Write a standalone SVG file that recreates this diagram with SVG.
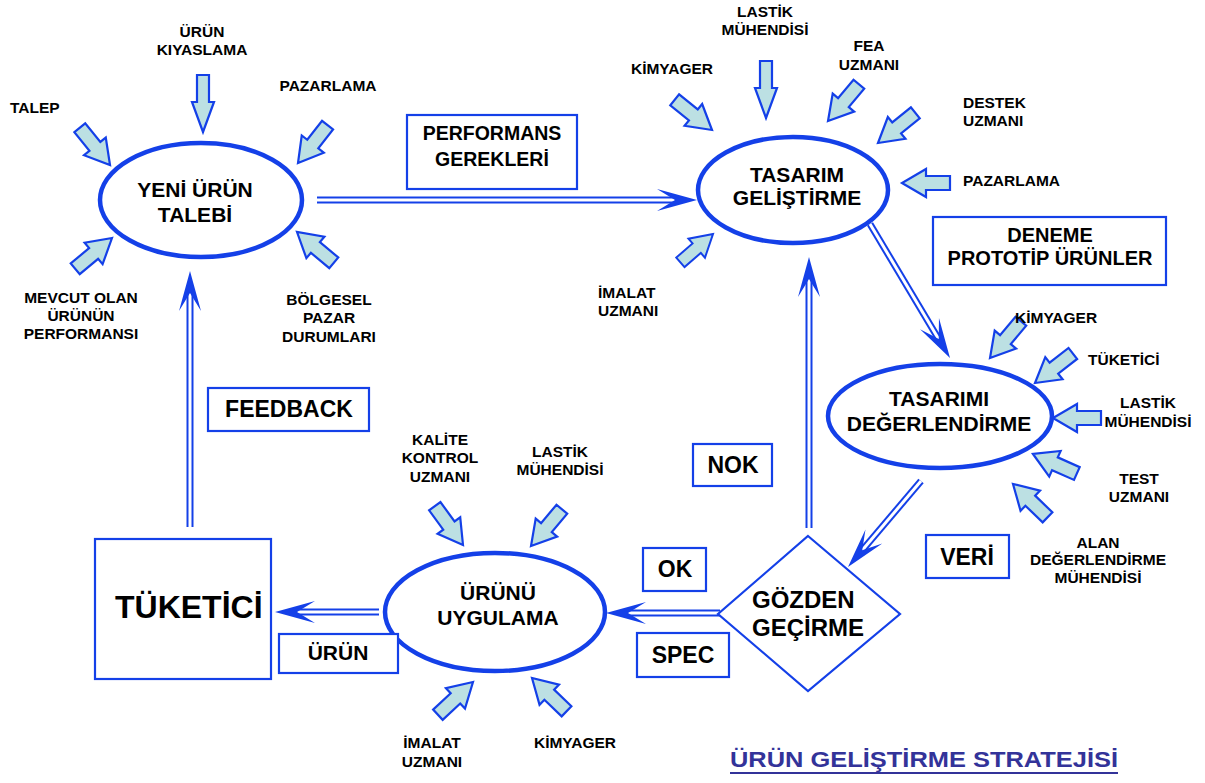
<svg xmlns="http://www.w3.org/2000/svg" xmlns:xlink="http://www.w3.org/1999/xlink" width="1205" height="783" viewBox="0 0 1205 783">
<style>
text{font-family:"Liberation Sans",Arial,sans-serif;font-weight:bold;fill:#000}
.s{font-size:15.5px;text-anchor:middle}
.sl{font-size:15.5px;text-anchor:start}
.m{font-size:21px;text-anchor:middle}
.b{font-size:23px;text-anchor:middle}
.node{fill:#fff;stroke:#1440E8;stroke-width:4.5}
.box{fill:#fff;stroke:#1440E8;stroke-width:2.2}
.blk{fill:#BCE0E3;stroke:#1440E8;stroke-width:2.2;stroke-linejoin:miter}
.do{fill:none;stroke:#1440E8;stroke-width:7}
.di{fill:none;stroke:#fff;stroke-width:3}
.ah{fill:#1440E8;stroke:none}
</style>
<defs>
<path id="ba" d="M0,0 L-24,-14 L-24,-7 L-48,-7 L-48,7 L-24,7 L-24,14 Z"/>
<path id="bv" d="M0,0 L-30,-11 L-30,-6 L-57,-6 L-57,6 L-30,6 L-30,11 Z"/>
<path id="ahd" d="M0,0 L-40,-11 L-22,0 L-40,11 Z"/>
</defs>
<rect width="1205" height="783" fill="#fff"/>

<g id="connectors">
<path class="do" d="M317,200 L676,200"/><path class="di" d="M317,200 L676,200"/>
<use href="#ahd" class="ah" transform="translate(697,200)"/>
<path class="do" d="M870,224 L939.2,340"/><path class="di" d="M870,224 L939.2,340"/>
<use href="#ahd" class="ah" transform="translate(950,358) rotate(59.2)"/>
<path class="do" d="M921,481 L861.6,551"/><path class="di" d="M921,481 L861.6,551"/>
<use href="#ahd" class="ah" transform="translate(848,567) rotate(130.3)"/>
<path class="do" d="M809,528 L809,278"/><path class="di" d="M809,528 L809,278"/>
<use href="#ahd" class="ah" transform="translate(809,257) rotate(-90)"/>
<path class="do" d="M720,613 L627,613"/><path class="di" d="M720,613 L627,613"/>
<use href="#ahd" class="ah" transform="translate(606,613) rotate(180)"/>
<path class="do" d="M379,612 L296,612"/><path class="di" d="M379,612 L296,612"/>
<use href="#ahd" class="ah" transform="translate(275,612) rotate(180)"/>
<path class="do" d="M190,527 L190,292"/><path class="di" d="M190,527 L190,292"/>
<use href="#ahd" class="ah" transform="translate(190,271) rotate(-90)"/>
</g>

<g id="yeni-urun-talebi">
<ellipse class="node" cx="201" cy="200" rx="101" ry="57"/>
<text class="m" x="195" y="197">YENİ ÜRÜN</text>
<text class="m" x="195" y="222">TALEBİ</text>
</g>
<g id="yeni-inputs">
<use href="#ba" class="blk" transform="translate(110,165) rotate(51)"/>
<use href="#bv" class="blk" transform="translate(203,132) rotate(90)"/>
<use href="#ba" class="blk" transform="translate(298,163) rotate(128)"/>
<use href="#ba" class="blk" transform="translate(112,238) rotate(-40)"/>
<use href="#ba" class="blk" transform="translate(297,232) rotate(220)"/>
<text class="sl" x="10" y="113">TALEP</text>
<text class="s" x="202" y="37">ÜRÜN</text>
<text class="s" x="202" y="55">KIYASLAMA</text>
<text class="s" x="328" y="91">PAZARLAMA</text>
<text class="s" x="81" y="303">MEVCUT OLAN</text>
<text class="s" x="81" y="321">ÜRÜNÜN</text>
<text class="s" x="81" y="339">PERFORMANSI</text>
<text class="s" x="329" y="305">BÖLGESEL</text>
<text class="s" x="329" y="323">PAZAR</text>
<text class="s" x="329" y="342">DURUMLARI</text>
</g>

<g id="performans-gerekleri">
<rect class="box" x="407" y="115" width="170" height="74"/>
<text class="m" x="492" y="140" style="font-size:19.5px">PERFORMANS</text>
<text class="m" x="492" y="166" style="font-size:19.5px">GEREKLERİ</text>
</g>

<g id="tasarim-gelistirme">
<ellipse class="node" cx="793" cy="190" rx="95" ry="53"/>
<text class="m" x="797" y="182">TASARIM</text>
<text class="m" x="797" y="205">GELİŞTİRME</text>
</g>
<g id="tasarim-inputs">
<use href="#ba" class="blk" transform="translate(712,130) rotate(39)"/>
<use href="#bv" class="blk" transform="translate(766,118) rotate(90)"/>
<use href="#ba" class="blk" transform="translate(828,121) rotate(130)"/>
<use href="#ba" class="blk" transform="translate(878,143) rotate(141)"/>
<use href="#ba" class="blk" transform="translate(902,183) rotate(180)"/>
<use href="#ba" class="blk" transform="translate(713,234) rotate(-41) scale(0.9)"/>
<text class="s" x="672" y="74">KİMYAGER</text>
<text class="s" x="765" y="17">LASTİK</text>
<text class="s" x="765" y="35">MÜHENDİSİ</text>
<text class="s" x="869" y="51">FEA</text>
<text class="s" x="869" y="70">UZMANI</text>
<text class="sl" x="963" y="108">DESTEK</text>
<text class="sl" x="963" y="126">UZMANI</text>
<text class="sl" x="963" y="186">PAZARLAMA</text>
<text class="sl" x="598" y="298">İMALAT</text>
<text class="sl" x="598" y="316">UZMANI</text>
</g>

<g id="deneme-prototip">
<rect class="box" x="933" y="217" width="233" height="68"/>
<text class="m" x="1050" y="242" style="font-size:20px">DENEME</text>
<text class="m" x="1050" y="265" style="font-size:20px">PROTOTİP ÜRÜNLER</text>
</g>

<g id="tasarimi-degerlendirme">
<ellipse class="node" cx="940" cy="416" rx="112" ry="52"/>
<text class="m" x="939" y="406">TASARIMI</text>
<text class="m" x="939" y="431">DEĞERLENDİRME</text>
</g>
<g id="degerlendirme-inputs">
<use href="#ba" class="blk" transform="translate(990,358) rotate(130)"/>
<use href="#ba" class="blk" transform="translate(1035,383) rotate(142)"/>
<use href="#ba" class="blk" transform="translate(1053,418) rotate(180)"/>
<use href="#ba" class="blk" transform="translate(1033,454) rotate(204)"/>
<use href="#ba" class="blk" transform="translate(1013,484) rotate(224)"/>
<text class="sl" x="1015" y="323">KİMYAGER</text>
<text class="sl" x="1088" y="365">TÜKETİCİ</text>
<text class="s" x="1148" y="408">LASTİK</text>
<text class="s" x="1148" y="427">MÜHENDİSİ</text>
<text class="s" x="1139" y="484">TEST</text>
<text class="s" x="1139" y="502">UZMANI</text>
<text class="s" x="1098" y="548">ALAN</text>
<text class="s" x="1098" y="565">DEĞERLENDİRME</text>
<text class="s" x="1098" y="583">MÜHENDİSİ</text>
</g>

<g id="veri">
<rect class="box" x="926" y="535" width="83" height="43"/>
<text class="b" x="967" y="565">VERİ</text>
</g>

<g id="gozden-gecirme">
<polygon class="box" points="808,536 900,614 808,691 718,614"/>
<text x="752" y="608" style="font-size:24px">GÖZDEN</text>
<text x="752" y="636" style="font-size:24px">GEÇİRME</text>
</g>

<g id="nok">
<rect class="box" x="693" y="444" width="79" height="42"/>
<text class="b" x="733" y="473">NOK</text>
</g>
<g id="ok">
<rect class="box" x="643" y="548" width="63" height="43"/>
<text class="b" x="675" y="577">OK</text>
</g>
<g id="spec">
<rect class="box" x="637" y="633" width="92" height="44"/>
<text class="b" x="683" y="663">SPEC</text>
</g>

<g id="urunu-uygulama">
<ellipse class="node" cx="495" cy="612" rx="110" ry="59"/>
<text class="m" x="498" y="600">ÜRÜNÜ</text>
<text class="m" x="498" y="625">UYGULAMA</text>
</g>
<g id="uygulama-inputs">
<use href="#ba" class="blk" transform="translate(463,545) rotate(54)"/>
<use href="#ba" class="blk" transform="translate(531,546) rotate(130)"/>
<use href="#ba" class="blk" transform="translate(473,682) rotate(-43)"/>
<use href="#ba" class="blk" transform="translate(532,678) rotate(224)"/>
<text class="s" x="440" y="445">KALİTE</text>
<text class="s" x="440" y="463">KONTROL</text>
<text class="s" x="440" y="482">UZMANI</text>
<text class="s" x="560" y="457">LASTİK</text>
<text class="s" x="560" y="475">MÜHENDİSİ</text>
<text class="s" x="432" y="748">İMALAT</text>
<text class="s" x="432" y="767">UZMANI</text>
<text class="s" x="575" y="748">KİMYAGER</text>
</g>

<g id="tuketici">
<rect class="box" x="95" y="539" width="176" height="140"/>
<text x="115" y="618" style="font-size:32px">TÜKETİCİ</text>
</g>

<g id="urun">
<rect class="box" x="279" y="634" width="119" height="39"/>
<text class="m" x="338" y="660">ÜRÜN</text>
</g>

<g id="feedback">
<rect class="box" x="208" y="388" width="161" height="43"/>
<text class="b" x="289" y="417">FEEDBACK</text>
</g>

<g id="title">
<text x="730" y="767" textLength="388" lengthAdjust="spacingAndGlyphs" style="font-size:22px;fill:#333399">ÜRÜN GELİŞTİRME STRATEJİSİ</text>
<line x1="730" y1="773" x2="1118" y2="773" stroke="#333399" stroke-width="2"/>
</g>
</svg>
